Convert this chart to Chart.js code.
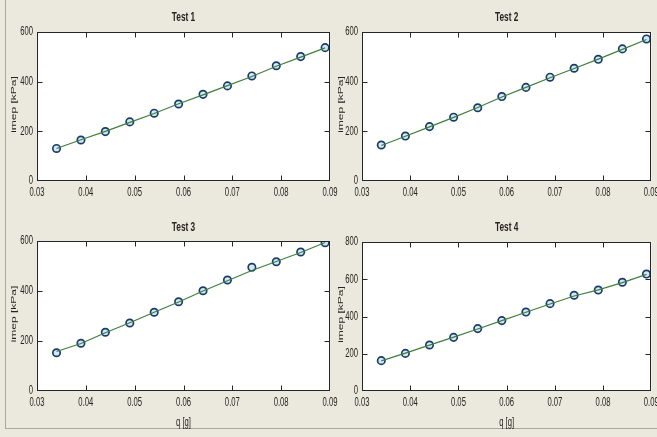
<!DOCTYPE html>
<html>
<head>
<meta charset="utf-8">
<script src="https://cdn.jsdelivr.net/npm/chart.js@4.4.1/dist/chart.umd.min.js"></script>
<style>
  html, body { margin: 0; padding: 0; width: 657px; height: 437px; overflow: hidden; background: #ebe9dd; }
  #fig { position: relative; width: 657px; height: 437px; }
  #frame { position: absolute; left: 5px; top: -2px; width: 700px; height: 430px;
           border-left: 1px solid #aaa79b; border-bottom: 1px solid #aaa79b; }
  canvas { position: absolute; }
</style>
</head>
<body>
<div id="fig">
  <div id="frame"></div>
  <canvas id="c1" width="345" height="215" style="left:0;top:0;"></canvas>
  <canvas id="c2" width="330" height="215" style="left:327px;top:0;"></canvas>
  <canvas id="c3" width="345" height="227" style="left:0;top:210px;"></canvas>
  <canvas id="c4" width="330" height="227" style="left:327px;top:210px;"></canvas>
</div>
<script>
// Fuel mass per cycle q [g]
const qValues = [0.034, 0.039, 0.044, 0.049, 0.054, 0.059, 0.064, 0.069, 0.074, 0.079, 0.084, 0.089];

// Measured imep [kPa] (circles) and model curve (green line) for each test
const test1Measured = [131, 165, 199, 238, 273, 310, 349, 383, 423, 464, 501, 537];
const test1Model    = [131, 166, 200, 236, 272, 311, 347, 384, 421, 462, 499, 536];
const test2Measured = [145, 181, 219, 257, 295, 340, 377, 418, 454, 490, 532, 572];
const test2Model    = [143, 180, 218, 256, 296, 338, 377, 416, 453, 491, 530, 570];
const test3Measured = [153, 191, 235, 272, 315, 357, 401, 444, 495, 517, 556, 593];
const test3Model    = [158, 190, 233, 273, 315, 356, 400, 441, 482, 518, 554, 594];
const test4Measured = [163, 202, 247, 288, 335, 378, 424, 469, 514, 542, 584, 628];
const test4Model    = [162, 203, 246, 289, 333, 378, 423, 467, 510, 543, 582, 626];

const titles = ['Test 1', 'Test 2', 'Test 3', 'Test 4'];
const xAxisLabel = 'q [g]';
const yAxisLabel = 'imep [kPa]';
const yMaxima = [600, 600, 600, 800];
const xMin = 0.03, xMax = 0.09, xStep = 0.01, yStep = 200;

const FONT = '"Liberation Sans", Arial, sans-serif';
const TEXT = '#2a2220';
const SQUEEZE = 0.64;   // narrow lettering of the figure

// horizontally condensed text helper
function squeezedText(ctx, text, x, y, font, align, rotate) {
  ctx.save();
  ctx.font = font;
  ctx.fillStyle = TEXT;
  ctx.textAlign = align;
  ctx.textBaseline = 'middle';
  ctx.translate(x, y);
  ctx.scale(SQUEEZE, 1);
  if (rotate) ctx.rotate(-Math.PI / 2);
  ctx.fillText(text, 0, 0);
  ctx.restore();
}

// white axes background, box outline, inward tick marks and all axis text
const axesBox = {
  id: 'axesBox',
  beforeDraw(chart) {
    const { ctx, chartArea: a } = chart;
    ctx.save();
    ctx.fillStyle = '#ffffff';
    ctx.fillRect(a.left, a.top, a.right - a.left, a.bottom - a.top);
    ctx.restore();
  },
  afterDraw(chart, args, opts) {
    const { ctx, chartArea: a, scales } = chart;
    const L = Math.round(a.left) + 0.5, R = Math.round(a.right) - 0.5;
    const T = Math.round(a.top) + 0.5, B = Math.round(a.bottom) - 0.5;
    ctx.save();
    ctx.strokeStyle = '#262626';
    ctx.lineWidth = 1;
    ctx.beginPath();
    scales.x.ticks.forEach(t => {
      const px = Math.round(scales.x.getPixelForValue(t.value)) + 0.5;
      if (px <= L + 1 || px >= R - 1) return;
      ctx.moveTo(px, B); ctx.lineTo(px, B - 5);
      ctx.moveTo(px, T); ctx.lineTo(px, T + 5);
    });
    scales.y.ticks.forEach(t => {
      const py = Math.round(scales.y.getPixelForValue(t.value)) + 0.5;
      if (py <= T + 1 || py >= B - 1) return;
      ctx.moveTo(L, py); ctx.lineTo(L + 5, py);
      ctx.moveTo(R, py); ctx.lineTo(R - 5, py);
    });
    ctx.stroke();
    ctx.strokeRect(L, T, R - L, B - T);
    ctx.restore();

    // tick labels
    scales.x.ticks.forEach(t => {
      squeezedText(ctx, Number(t.value).toFixed(2), scales.x.getPixelForValue(t.value), a.bottom + 12,
                   '12px ' + FONT, 'center');
    });
    scales.y.ticks.forEach(t => {
      squeezedText(ctx, String(Math.round(t.value)), a.left - 4, scales.y.getPixelForValue(t.value),
                   '12px ' + FONT, 'right');
    });

    // title and axis labels
    const cx = (a.left + a.right) / 2;
    squeezedText(ctx, opts.title, cx, 17, 'bold 13px ' + FONT, 'center');
    squeezedText(ctx, yAxisLabel, 13.5, (a.top + a.bottom) / 2 - 2, '12px ' + FONT, 'center', true);
    if (opts.xTitle) squeezedText(ctx, xAxisLabel, cx, a.bottom + 32, '12px ' + FONT, 'center');
  }
};

function points(values) {
  return qValues.map((q, i) => ({ x: q, y: values[i] }));
}

function makePanel(id, idx, measured, model, box, showXTitle) {
  const canvas = document.getElementById(id);
  return new Chart(canvas, {
    type: 'scatter',
    data: {
      datasets: [
        {
          data: points(model),
          showLine: true,
          borderColor: '#3f7f3f',
          borderWidth: 1.2,
          pointRadius: 0,
          tension: 0
        },
        {
          data: points(measured),
          showLine: false,
          pointStyle: 'circle',
          pointRadius: 3.7,
          borderWidth: 1.7,
          pointBorderColor: '#1b3b6b',
          pointBackgroundColor: 'rgba(175,215,235,0.55)'
        }
      ]
    },
    options: {
      responsive: false,
      animation: false,
      events: [],
      layout: { padding: { left: 0, top: box.top, right: box.padRight, bottom: 0 } },
      plugins: {
        legend: { display: false },
        tooltip: { enabled: false },
        title: { display: false },
        axesBox: { title: titles[idx], xTitle: showXTitle }
      },
      scales: {
        x: {
          type: 'linear',
          min: xMin,
          max: xMax,
          grid: { display: false, drawTicks: false },
          border: { display: false },
          ticks: { stepSize: xStep, display: false, autoSkip: false },
          afterFit(s) { s.height = box.canvasH - box.bottom; s.paddingLeft = 0; s.paddingRight = 0; }
        },
        y: {
          type: 'linear',
          min: 0,
          max: yMaxima[idx],
          grid: { display: false, drawTicks: false },
          border: { display: false },
          ticks: { stepSize: yStep, display: false },
          afterFit(s) { s.width = box.left; s.paddingTop = 0; s.paddingBottom = 0; }
        }
      }
    },
    plugins: [axesBox]
  });
}

makePanel('c1', 0, test1Measured, test1Model, { left: 37, top: 32, bottom: 181, canvasH: 215, padRight: 15 }, false);
makePanel('c2', 1, test2Measured, test2Model, { left: 35, top: 32, bottom: 181, canvasH: 215, padRight: 2 }, false);
makePanel('c3', 2, test3Measured, test3Model, { left: 37, top: 31, bottom: 181, canvasH: 227, padRight: 15 }, true);
makePanel('c4', 3, test4Measured, test4Model, { left: 35, top: 32, bottom: 181, canvasH: 227, padRight: 2 }, true);
</script>
</body>
</html>
